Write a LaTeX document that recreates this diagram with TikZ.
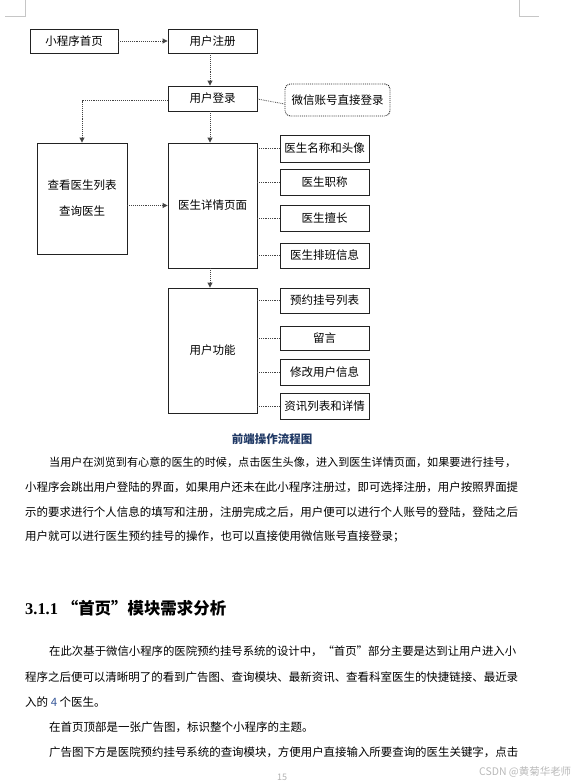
\documentclass[tikz,border=0pt]{standalone}
\usepackage{fontspec}
\usepackage{graphicx}
\setmainfont{Noto Sans CJK SC}
\newfontfamily\latinserif{Liberation Serif}
\usetikzlibrary{positioning}
\usetikzlibrary{arrows.meta}

\definecolor{boxgray}{HTML}{222222}
\definecolor{linegray}{HTML}{444444}
\definecolor{navy}{HTML}{1F3864}
\definecolor{fourblue}{HTML}{3A5A9A}

\newcommand\zw{\fontsize{11.5}{14}\selectfont}
\newcommand\fitline[2]{\resizebox{#1}{!}{#2}}

\begin{document}
\begin{tikzpicture}[x=1pt, y=-1pt,
            box/.style={draw=boxgray, line width=0.9pt, inner sep=0pt, font=\zw},
            sidebox/.style={box, minimum width=89pt},
            arr/.style={densely dotted, line width=0.9pt, draw=linegray, -{Triangle[length=5pt,width=5pt]}},
            link/.style={densely dotted, line width=0.8pt, draw=linegray},
            txt/.style={anchor=west, inner sep=0pt, font=\zw},
            ]
            \useasboundingbox (0,0) rectangle (576,784);

            % page corner marks
            \draw[gray!45, line width=0.8pt] (5,16) -- (25,16) -- (25,0);
            \draw[gray!45, line width=0.8pt] (539,16) -- (519,16) -- (519,0);

            % flow chart
            \node[box, minimum width=88pt, minimum height=24pt] (home) at (74,41) {小程序首页};
            \node[box, minimum width=89pt, minimum height=24pt] (reg) at (212.5,41) {用户注册};
            \node[box, minimum width=89pt, minimum height=25pt] (login) at (212.5,98.5) {用户登录};
            \node[box, densely dotted, rounded corners=5pt, minimum width=105pt, minimum height=32pt] (wx) at (337.5,100) {微信账号直接登录};

            \node[box, align=center, minimum width=90pt, minimum height=111pt] (list) at (82,198.5) {查看医生列表\\[12pt]查询医生};
            \node[box, minimum width=89pt, minimum height=125pt] (detail) at (212.5,205.5) {医生详情页面};
            \node[sidebox, minimum height=27pt] (d1) at (324.5,148.5) {医生名称和头像};
            \node[sidebox, minimum height=26pt] (d2) at (324.5,182) {医生职称};
            \node[sidebox, minimum height=26pt] (d3) at (324.5,218) {医生擅长};
            \node[sidebox, minimum height=25pt] (d4) at (324.5,255.5) {医生排班信息};

            \node[box, minimum width=89pt, minimum height=125pt] (func) at (212.5,350.5) {用户功能};
            \node[sidebox, minimum height=25pt] (f1) at (324.5,300.5) {预约挂号列表};
            \node[sidebox, minimum height=24pt] (f2) at (324.5,338) {留言};
            \node[sidebox, minimum height=26pt] (f3) at (324.5,372) {修改用户信息};
            \node[sidebox, minimum height=26pt] (f4) at (324.5,406) {资讯列表和详情};

            \draw[arr] (home.east) -- (reg.west);
            \draw[arr] ([xshift=-2.5pt]reg.south) -- ([xshift=-2.5pt]login.north);
            \draw[link] ([yshift=-0.5pt]login.east) -- ([yshift=-4pt]wx.west);
            \draw[arr] ([yshift=-2pt]login.west) -| (list.north);
            \draw[arr] ([xshift=-2.5pt]login.south) -- ([xshift=-2.5pt]detail.north);
            \draw[arr] (list.east |- detail.west) -- (detail.west);
            \draw[arr] ([xshift=-2.5pt]detail.south) -- ([xshift=-2.5pt]func.north);

            \draw[link] (detail.east |- d1.west) -- (d1.west);
            \draw[link] (detail.east |- d2.west) -- (d2.west);
            \draw[link] (detail.east |- d3.west) -- (d3.west);
            \draw[link] (detail.east |- d4.west) -- (d4.west);
            \draw[link] (func.east |- f1.west) -- (f1.west);
            \draw[link] (func.east |- f2.west) -- (f2.west);
            \draw[link] (func.east |- f3.west) -- (f3.west);
            \draw[link] (func.east |- f4.west) -- (f4.west);

            \node[font=\zw\bfseries, text=navy] (cap) at (272,439) {前端操作流程图};

            % text of the page
            \node[txt] (p1a) at (49,462) {\fitline{467pt}{当用户在浏览到有心意的医生的时候，点击医生头像，进入到医生详情页面，如果要进行挂号，}};
            \node[txt] (p1b) at (25,487) {\fitline{493pt}{小程序会跳出用户登陆的界面，如果用户还未在此小程序注册过，即可选择注册，用户按照界面提}};
            \node[txt] (p1c) at (25,512) {\fitline{493pt}{示的要求进行个人信息的填写和注册，注册完成之后，用户便可以进行个人账号的登陆，登陆之后}};
            \node[txt] (p1d) at (25,537) {用户就可以进行医生预约挂号的操作，也可以直接使用微信账号直接登录；};

            \node[txt, font=\fontsize{16}{19}\selectfont\bfseries] (head) at (25,608) {\fitline{201pt}{{\latinserif 3.1.1} “首页”模块需求分析}};

            \node[txt] (p2a) at (49,651) {\fitline{467pt}{在此次基于微信小程序的医院预约挂号系统的设计中，“首页”部分主要是达到让用户进入小}};
            \node[txt] (p2b) at (25,677) {\fitline{493pt}{程序之后便可以清晰明了的看到广告图、查询模块、最新资讯、查看科室医生的快捷链接、最近录}};
            \node[txt] (p2c) at (25,702) {入的 {\color{fourblue}4} 个医生。};
            \node[txt] (p2d) at (49,727) {在首页顶部是一张广告图，标识整个小程序的主题。};
            \node[txt] (p2e) at (49,752) {\fitline{469pt}{广告图下方是医院预约挂号系统的查询模块，方便用户直接输入所要查询的医生关键字，点击}};

            \node[font=\fontsize{9}{10}\selectfont, text=gray!60] (pgno) at (282,777) {15};
            \node[txt, font=\fontsize{10.5}{12}\selectfont, text=gray!55] (mark) at (479,772) {\fitline{92pt}{CSDN @黄菊华老师}};
        \end{tikzpicture}
\end{document}
